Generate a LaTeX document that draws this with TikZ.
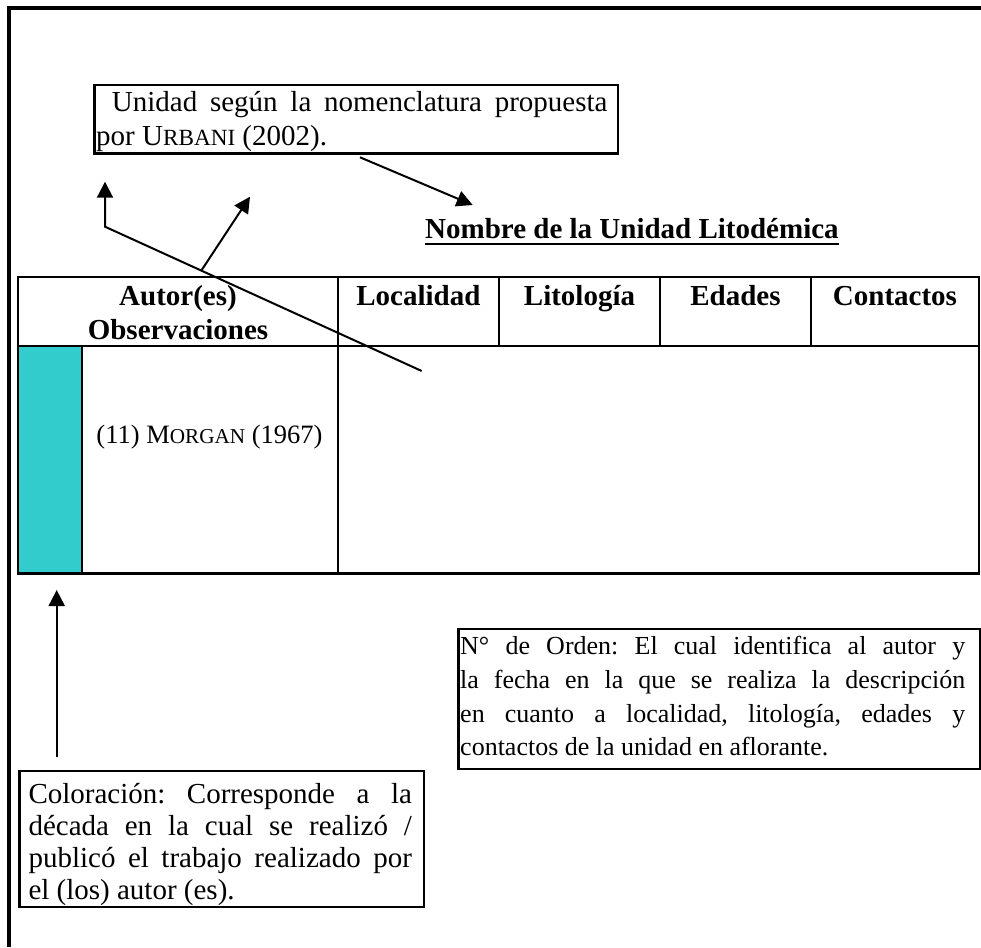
\documentclass[tikz,border=0pt]{standalone}
\usepackage{fontspec}
\setmainfont{Liberation Serif}
\usetikzlibrary{arrows.meta}
\definecolor{decada}{RGB}{51,204,204}
\tolerance=10000
\hbadness=10000
\frenchspacing
% fake small capitals: first letter at full size, the rest at size #1
\newcommand{\versal}[3]{#2{\fontsize{#1}{#1}\selectfont #3}}

\begin{document}
\begin{tikzpicture}[x=1pt,y=-1pt,
  rule/.style={line width=2.3pt},
  notebox/.style={draw, line width=2.3pt, inner sep=0pt, anchor=north west},
  notetext/.style={anchor=north west, inner sep=0pt, align=justify},
  colhead/.style={anchor=base, inner sep=0pt, font=\fontsize{29}{34}\selectfont\bfseries},
  pointer/.style={line width=2pt, -{Triangle[length=16pt,width=16pt]}},
]
\useasboundingbox (0,0) rectangle (981,947);

% page frame (top and left edges only)
\draw[line width=4.3pt] (7.3,7.8) -- (981,7.8);
\draw[line width=3.5pt] (9,5.7) -- (9,947);

% note on the unit name
\node[notebox, minimum width=523.4pt, minimum height=68.3pt] (unidadbox) at (93.3,84) {};
\node[notetext, text width=511.3pt, font=\fontsize{29}{34}\selectfont] (unidadtxt) at (96,86.7)
  {\rule{0pt}{25pt}\hspace*{15.7pt}Unidad según la nomenclatura propuesta\linebreak
   por \versal{23.2}{U}{RBANI} (2002).};

% title
\node[anchor=base west, inner sep=0pt, font=\fontsize{29}{34}\selectfont\bfseries]
  (titulo) at (425,238.3) {Nombre de la Unidad Litodémica};
\draw[line width=2.2pt] ([yshift=-5.7pt]titulo.base west) -- ([yshift=-5.7pt]titulo.base east);

% table
\fill[decada] (18.3,346) rectangle (81.7,573.5);
\draw[rule] (18.3,277.3) rectangle (979,573.5);
\draw[rule] (18.3,346) -- (979,346);
\draw[rule] (337.7,277.3) -- (337.7,573.5);
\foreach \x in {499,660,811} \draw[rule] (\x,277.3) -- (\x,346);
\draw[rule] (81.7,346) -- (81.7,573.5);

\node[colhead] (hautor) at (178,305) {Autor(es)};
\node[colhead] (hobs) at (178,339) {Observaciones};
\node[colhead] (hloc) at (418.4,305) {Localidad};
\node[colhead] (hlit) at (579.5,305) {Litología};
\node[colhead] (heda) at (735.5,305) {Edades};
\node[colhead] (hcon) at (895,305) {Contactos};

\node[anchor=base, inner sep=0pt, font=\fontsize{26.5}{32}\selectfont]
  (autor11) at (209.5,443) {(11) \versal{21.2}{M}{ORGAN} (1967)};

% pointers
\coordinate (a1s) at (360,157.3);
\coordinate (a1e) at (472.7,205);
\draw[pointer] (a1s) -- (a1e);

\coordinate (a2s) at (421.7,371);
\coordinate (a2k) at (105,226.7);
\coordinate (a2e) at (105,181.7);
\draw[pointer] (a2s) -- (a2k) -- (a2e);

\coordinate (a3s) at (201.7,270);
\coordinate (a3e) at (250,196.7);
\draw[pointer] (a3s) -- (a3e);

\coordinate (a4s) at (56.7,756.7);
\coordinate (a4e) at (56.7,590);
\draw[pointer] (a4s) -- (a4e);

% note on the colour column
\node[notebox, minimum width=404.4pt, minimum height=135.7pt] (colbox) at (18.3,770) {};
\node[notetext, text width=383.4pt, font=\fontsize{29}{32}\selectfont] (coltxt) at (28.3,778.3)
  {\rule{0pt}{25pt}Coloración: Corresponde a la\linebreak
   década en la cual se realizó /\linebreak
   publicó el trabajo realizado por\linebreak
   el (los) autor (es).};

% note on the order number
\node[notebox, minimum width=521.7pt, minimum height=139.7pt] (ordenbox) at (457.3,628) {};
\node[notetext, text width=505pt, font=\fontsize{26}{33.8}\selectfont] (ordentxt) at (460,632.3)
  {\rule{0pt}{22pt}N° de Orden: El cual identifica al autor y\linebreak
   la fecha en la que se realiza la descripción\linebreak
   en cuanto a localidad, litología, edades y\linebreak
   contactos de la unidad en aflorante.};
\end{tikzpicture}
\end{document}
